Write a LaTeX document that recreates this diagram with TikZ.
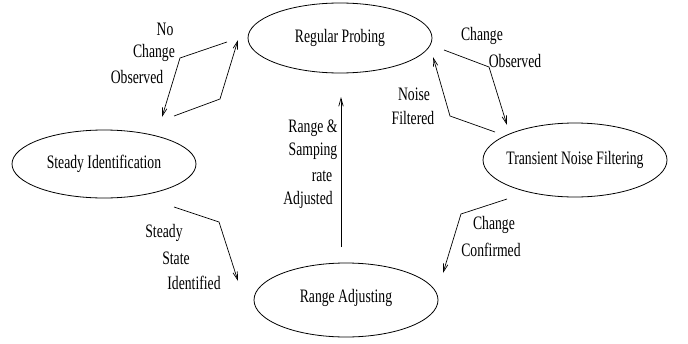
\documentclass[tikz,border=0pt]{standalone}
\usepackage{fontspec}
\setmainfont{Liberation Serif}[FakeStretch=0.72]
\usetikzlibrary{arrows.meta,shapes.geometric}
\begin{document}
\begin{tikzpicture}[x=1pt,y=-1pt,
  state/.style={draw,ellipse,line width=0.8pt,minimum width=184pt,minimum height=70pt,inner sep=0pt},
  lbl/.style={inner sep=0pt,font=\fontsize{19}{22}\selectfont},
  conn/.style={line width=0.7pt,-{Straight Barb[length=8pt,width=4.5pt]}}]
\useasboundingbox (0,0) rectangle (688,343);
% states
\node[state] (rp) at (340,38) {};
\node[lbl] (rpt) at (340,38) {Regular Probing};
\node[state,minimum height=68pt] (si) at (104,164) {};
\node[lbl] (sit) at (104,164) {Steady Identification};
\node[state,minimum height=74pt] (tn) at (575,160) {};
\node[lbl] (tnt) at (575,160) {Transient Noise Filtering};
\node[state,minimum height=74pt] (ra) at (346,300) {};
\node[lbl] (rat) at (346,298) {Range Adjusting};
% connector points
\coordinate (a1) at (227,42); \coordinate (a2) at (180,58); \coordinate (a3) at (162,117);
\coordinate (b1) at (174,116); \coordinate (b2) at (220,99); \coordinate (b3) at (238,40);
\coordinate (c1) at (444,50); \coordinate (c2) at (489,67); \coordinate (c3) at (507,125);
\coordinate (d1) at (495,132); \coordinate (d2) at (450,116); \coordinate (d3) at (433,57);
\coordinate (e1) at (174,207); \coordinate (e2) at (219,222); \coordinate (e3) at (238,281);
\coordinate (f1) at (507,199); \coordinate (f2) at (461,214); \coordinate (f3) at (443,273);
\coordinate (g1) at (341,247); \coordinate (g3) at (341,97);
\draw[conn] (a1) -- (a2) -- (a3);
\draw[conn] (b1) -- (b2) -- (b3);
\draw[conn] (c1) -- (c2) -- (c3);
\draw[conn] (d1) -- (d2) -- (d3);
\draw[conn] (e1) -- (e2) -- (e3);
\draw[conn] (f1) -- (f2) -- (f3);
\draw[conn] (g1) -- (g3);
% labels
\node[lbl] (n1) at (165,29) {No};
\node[lbl] (n2) at (154,53) {Change};
\node[lbl] (n3) at (137,77) {Observed};
\node[lbl] (o1) at (482,36) {Change};
\node[lbl] (o2) at (515,61) {Observed};
\node[lbl] (p1) at (414,94) {Noise};
\node[lbl] (p2) at (413,118) {Filtered};
\node[lbl] (q1) at (313,128) {Range \&};
\node[lbl] (q2) at (313,151) {Samping};
\node[lbl] (q3) at (322,176) {rate};
\node[lbl] (q4) at (308,200) {Adjusted};
\node[lbl] (s1) at (164,233) {Steady};
\node[lbl] (s2) at (176,258) {State};
\node[lbl] (s3) at (194,283) {Identified};
\node[lbl] (t1) at (494,225) {Change};
\node[lbl] (t2) at (491,250) {Confirmed};
\end{tikzpicture}
\end{document}
